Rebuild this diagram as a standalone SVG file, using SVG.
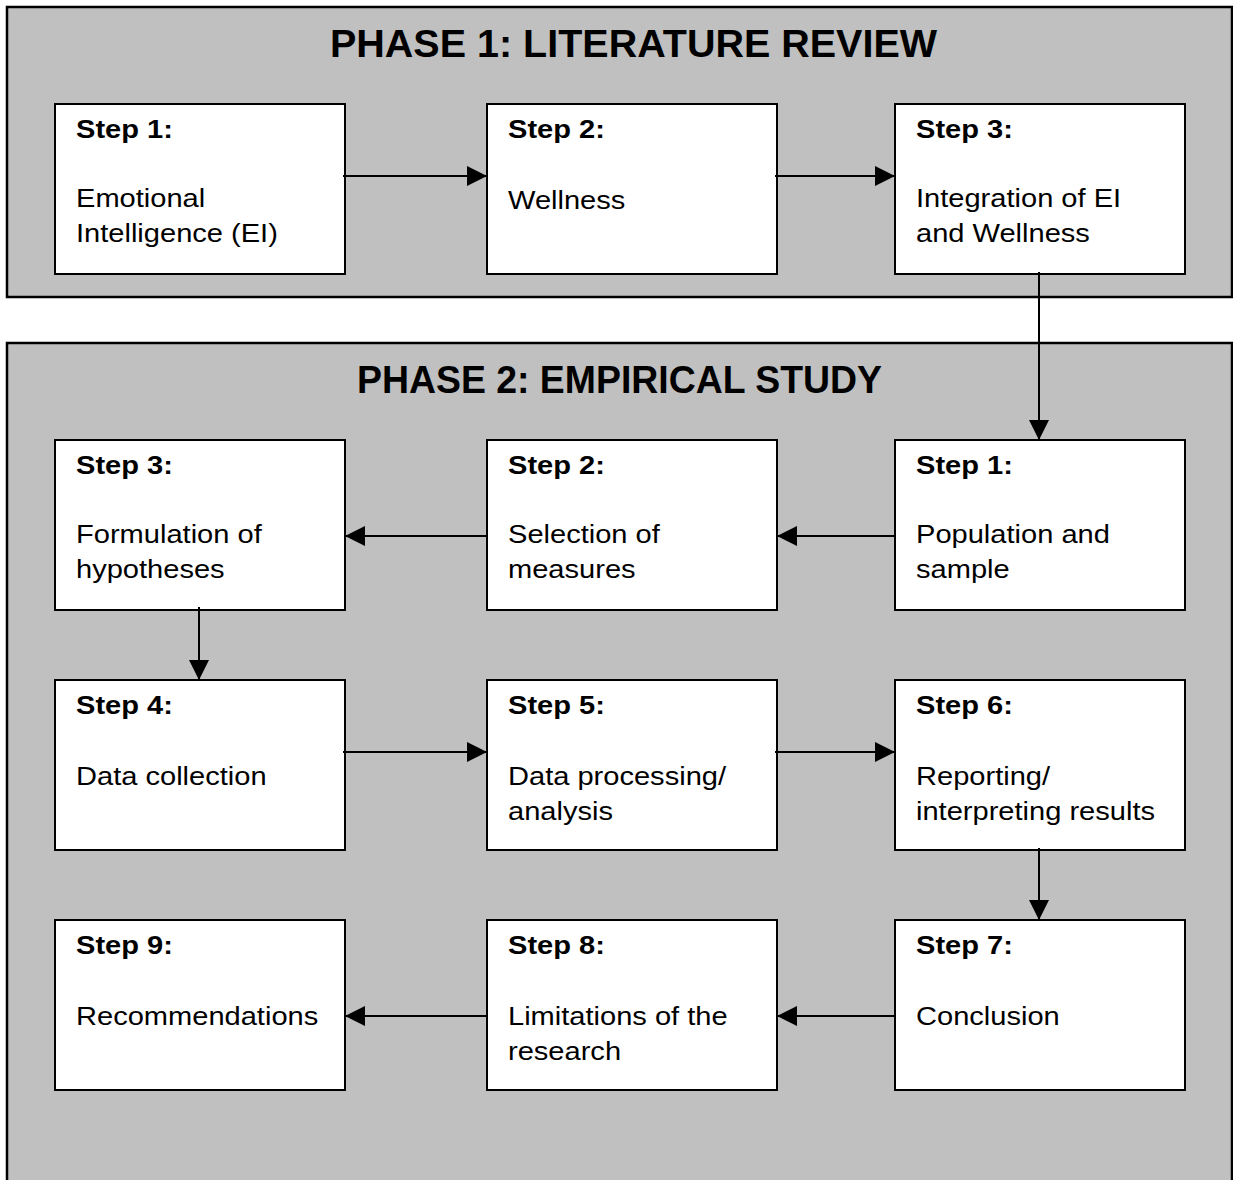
<svg xmlns="http://www.w3.org/2000/svg" width="1233" height="1180" viewBox="0 0 1233 1180">
<defs>
<marker id="ah" markerWidth="20" markerHeight="20" refX="20" refY="10" orient="auto" markerUnits="userSpaceOnUse">
<path d="M0,0 L20,10 L0,20 Z" fill="#000"/>
</marker>
<style>
.phase{fill:#C0C0C0;stroke:#000;stroke-width:2.5}
.box{fill:#fff;stroke:#000;stroke-width:2}
.title{font-family:"Liberation Sans",Arial,sans-serif;font-weight:bold;font-size:38px;fill:#000}
.step{font-family:"Liberation Sans",Arial,sans-serif;font-weight:bold;font-size:25.5px;fill:#000}
.body{font-family:"Liberation Sans",Arial,sans-serif;font-size:25.5px;fill:#000}
.conn{stroke:#000;stroke-width:2;fill:none;marker-end:url(#ah)}
</style>
</defs>
<g id="phase1">
<rect class="phase" x="7" y="7" width="1225" height="290"/>
<text class="title" x="330" y="57" textLength="607" lengthAdjust="spacingAndGlyphs">PHASE 1: LITERATURE REVIEW</text>
</g>
<g id="phase2">
<rect class="phase" x="7" y="343" width="1225" height="845"/>
<text class="title" x="357" y="393" textLength="525" lengthAdjust="spacingAndGlyphs">PHASE 2: EMPIRICAL STUDY</text>
</g>
<g id="p1s1">
<rect class="box" x="55" y="104" width="290" height="170"/>
<text class="step" transform="translate(76 138) scale(1.14 1)">Step 1:</text>
<text class="body" transform="translate(76 207) scale(1.14 1)">Emotional</text>
<text class="body" transform="translate(76 242) scale(1.14 1)">Intelligence (EI)</text>
</g>
<g id="p1s2">
<rect class="box" x="487" y="104" width="290" height="170"/>
<text class="step" transform="translate(508 138) scale(1.14 1)">Step 2:</text>
<text class="body" transform="translate(508 209) scale(1.14 1)">Wellness</text>
</g>
<g id="p1s3">
<rect class="box" x="895" y="104" width="290" height="170"/>
<text class="step" transform="translate(916 138) scale(1.14 1)">Step 3:</text>
<text class="body" transform="translate(916 207) scale(1.14 1)">Integration of EI</text>
<text class="body" transform="translate(916 242) scale(1.14 1)">and Wellness</text>
</g>
<g id="p2s1">
<rect class="box" x="895" y="440" width="290" height="170"/>
<text class="step" transform="translate(916 474) scale(1.14 1)">Step 1:</text>
<text class="body" transform="translate(916 543) scale(1.14 1)">Population and</text>
<text class="body" transform="translate(916 578) scale(1.14 1)">sample</text>
</g>
<g id="p2s2">
<rect class="box" x="487" y="440" width="290" height="170"/>
<text class="step" transform="translate(508 474) scale(1.14 1)">Step 2:</text>
<text class="body" transform="translate(508 543) scale(1.14 1)">Selection of</text>
<text class="body" transform="translate(508 578) scale(1.14 1)">measures</text>
</g>
<g id="p2s3">
<rect class="box" x="55" y="440" width="290" height="170"/>
<text class="step" transform="translate(76 474) scale(1.14 1)">Step 3:</text>
<text class="body" transform="translate(76 543) scale(1.14 1)">Formulation of</text>
<text class="body" transform="translate(76 578) scale(1.14 1)">hypotheses</text>
</g>
<g id="p2s4">
<rect class="box" x="55" y="680" width="290" height="170"/>
<text class="step" transform="translate(76 714) scale(1.14 1)">Step 4:</text>
<text class="body" transform="translate(76 785) scale(1.14 1)">Data collection</text>
</g>
<g id="p2s5">
<rect class="box" x="487" y="680" width="290" height="170"/>
<text class="step" transform="translate(508 714) scale(1.14 1)">Step 5:</text>
<text class="body" transform="translate(508 785) scale(1.14 1)">Data processing/</text>
<text class="body" transform="translate(508 820) scale(1.14 1)">analysis</text>
</g>
<g id="p2s6">
<rect class="box" x="895" y="680" width="290" height="170"/>
<text class="step" transform="translate(916 714) scale(1.14 1)">Step 6:</text>
<text class="body" transform="translate(916 785) scale(1.14 1)">Reporting/</text>
<text class="body" transform="translate(916 820) scale(1.14 1)">interpreting results</text>
</g>
<g id="p2s7">
<rect class="box" x="895" y="920" width="290" height="170"/>
<text class="step" transform="translate(916 954) scale(1.14 1)">Step 7:</text>
<text class="body" transform="translate(916 1025) scale(1.14 1)">Conclusion</text>
</g>
<g id="p2s8">
<rect class="box" x="487" y="920" width="290" height="170"/>
<text class="step" transform="translate(508 954) scale(1.14 1)">Step 8:</text>
<text class="body" transform="translate(508 1025) scale(1.14 1)">Limitations of the</text>
<text class="body" transform="translate(508 1060) scale(1.14 1)">research</text>
</g>
<g id="p2s9">
<rect class="box" x="55" y="920" width="290" height="170"/>
<text class="step" transform="translate(76 954) scale(1.14 1)">Step 9:</text>
<text class="body" transform="translate(76 1025) scale(1.14 1)">Recommendations</text>
</g>
<g id="connectors">
<line class="conn" x1="343" y1="176" x2="487" y2="176"/>
<line class="conn" x1="775" y1="176" x2="895" y2="176"/>
<line class="conn" x1="1039" y1="272" x2="1039" y2="440"/>
<line class="conn" x1="895" y1="536" x2="777" y2="536"/>
<line class="conn" x1="487" y1="536" x2="345" y2="536"/>
<line class="conn" x1="199" y1="607" x2="199" y2="680"/>
<line class="conn" x1="343" y1="752" x2="487" y2="752"/>
<line class="conn" x1="775" y1="752" x2="895" y2="752"/>
<line class="conn" x1="1039" y1="848" x2="1039" y2="920"/>
<line class="conn" x1="895" y1="1016" x2="777" y2="1016"/>
<line class="conn" x1="487" y1="1016" x2="345" y2="1016"/>
</g>
</svg>
